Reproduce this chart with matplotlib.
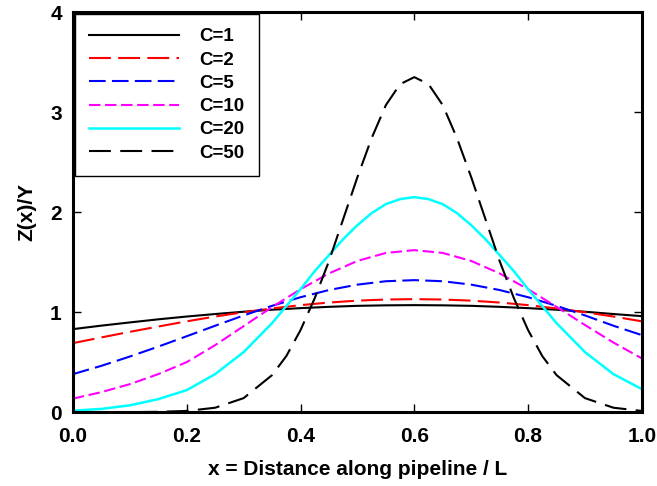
from matplotlib import pyplot as plt

# values
x = [0.0, 0.05, 0.1, 0.15, 0.2, 0.25, 0.3, 0.35, 0.4, 0.45, 0.5,
     0.55, 0.6, 0.65, 0.7, 0.75, 0.8, 0.85, 0.9, 0.95, 1.0]
c1 = [0.83, 0.865, 0.897, 0.928, 0.956, 0.981, 1.004, 1.024, 1.040, 1.053, 1.063,
      1.068, 1.07, 1.068, 1.063, 1.053, 1.040, 1.024, 1.004, 0.981, 0.96]
c2 = [0.69, 0.747, 0.803, 0.856, 0.908, 0.956, 0.999, 1.037, 1.070, 1.096, 1.115,
      1.126, 1.13, 1.126, 1.115, 1.096, 1.070, 1.037, 0.999, 0.956, 0.908]
c5 = [0.38, 0.463, 0.556, 0.655, 0.759, 0.864, 0.967, 1.063, 1.149, 1.221, 1.275,
      1.309, 1.32, 1.309, 1.275, 1.221, 1.149, 1.063, 0.967, 0.864, 0.77]
c10 = [0.135, 0.20, 0.28, 0.38, 0.50, 0.67, 0.86, 1.05, 1.229, 1.387, 1.512,
       1.592, 1.62, 1.592, 1.512, 1.387, 1.229, 1.053, 0.871, 0.696, 0.537]

x20 = [0.0, 0.05, 0.1, 0.15, 0.2, 0.25, 0.3, 0.35, 0.4, 0.425, 0.45, 0.475, 0.5,
       0.525, 0.55, 0.575, 0.6, 0.625, 0.65, 0.675, 0.7, 0.725, 0.75, 0.775,
       0.8, 0.85, 0.9, 0.95, 1.0]
c20 = [0.015, 0.032, 0.068, 0.13, 0.22, 0.38, 0.60, 0.89, 1.23, 1.41, 1.57, 1.73,
       1.87, 1.99, 2.08, 2.13, 2.15, 2.13, 2.08, 1.99, 1.87, 1.73, 1.57, 1.41,
       1.23, 0.89, 0.60, 0.38, 0.23]

x50 = [0.0, 0.05, 0.1, 0.15, 0.2, 0.25, 0.3, 0.35, 0.375, 0.4, 0.425, 0.45, 0.475,
       0.5, 0.525, 0.55, 0.575, 0.6, 0.625, 0.65, 0.675, 0.7, 0.725, 0.75, 0.775,
       0.8, 0.825, 0.85, 0.9, 0.95, 1.0]
c50 = [0.0, 0.0, 0.0, 0.003, 0.012, 0.044, 0.14, 0.37, 0.56, 0.82, 1.14, 1.51, 1.93,
       2.35, 2.74, 3.07, 3.28, 3.35, 3.28, 3.07, 2.74, 2.35, 1.93, 1.51, 1.14,
       0.82, 0.56, 0.37, 0.14, 0.044, 0.012]

x_ticks = [0.0, 0.2, 0.4, 0.6, 0.8, 1.0]
x_tick_labels = ["0.0", "0.2", "0.4", "0.6", "0.8", "1.0"]
y_ticks = [0, 1, 2, 3, 4]


def main():
    plt.rcParams['font.family'] = ['Liberation Sans', 'DejaVu Sans']
    plt.rcParams['font.weight'] = 'bold'

    fig = plt.figure(figsize=(6.57, 4.86), dpi=100)
    ax = fig.add_axes([0.111, 0.152, 0.866, 0.823])

    lw = 1.5
    ax.plot(x, c1, color='black', lw=lw, label="C=1")
    ax.plot(x, c2, color='red', lw=lw, ls=(0, (10.5, 3.5)), label="C=2")
    ax.plot(x, c5, color='blue', lw=lw, ls=(0, (8, 3)), label="C=5")
    ax.plot(x, c10, color='magenta', lw=lw, ls=(0, (5.5, 2.2)), label="C=10")
    ax.plot(x20, c20, color='cyan', lw=1.8, label="C=20")
    ax.plot(x50, c50, color='black', lw=lw, ls=(0, (10.5, 4.5)), label="C=50")

    ax.set_xlim(0, 1)
    ax.set_ylim(0, 4)
    ax.set_xticks(x_ticks, labels=x_tick_labels)
    ax.set_yticks(y_ticks)
    ax.tick_params(direction='in', length=6, width=1, labelsize=15,
                   top=True, right=True, pad=8)
    ax.tick_params(axis='x', pad=11)
    for s in ax.spines.values():
        s.set_linewidth(2.2)

    ax.set_xlabel("x = Distance along pipeline / L", fontsize=15, fontweight='bold',
                  labelpad=10)
    ax.set_ylabel("Z(x)/Y", fontsize=15, fontweight='bold', labelpad=10)

    leg = ax.legend(loc='upper left', bbox_to_anchor=(0.0, 1.0), borderaxespad=0.1,
                    fontsize=13.5, handlelength=4.8, handletextpad=1.1,
                    labelspacing=0.33, fancybox=False, framealpha=1,
                    borderpad=0.75)
    leg.get_frame().set_edgecolor('black')
    leg.get_frame().set_linewidth(1.0)

    fig.savefig("out.png", dpi=100)


if __name__ == "__main__":
    main()
